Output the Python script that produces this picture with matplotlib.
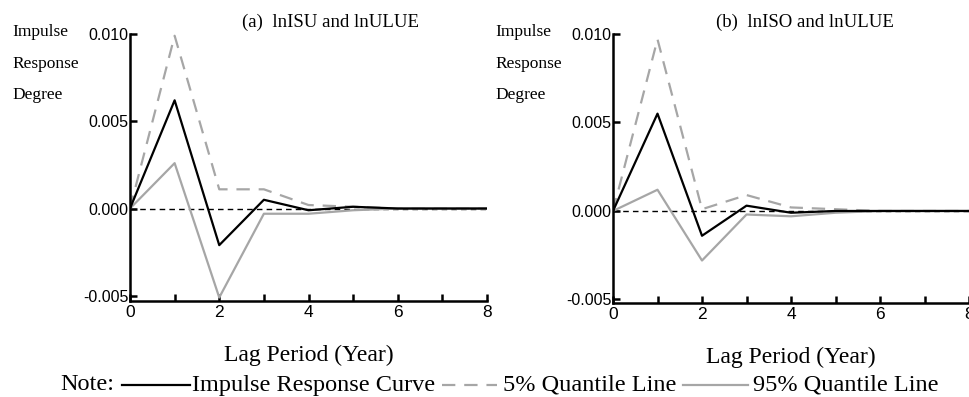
import numpy as np
import matplotlib.pyplot as plt
from matplotlib.lines import Line2D

#Daten
lags = [0, 1, 2, 3, 4, 5, 6, 7, 8]
#(a) lnISU und lnULUE
irf_a = [0.0, 0.0062, -0.0021, 0.0005, -0.0001, 0.0001, 0.0, 0.0, 0.0]
q5_a = [0.0, 0.0099, 0.0011, 0.0011, 0.0002, 0.0001, 0.0, 0.0, 0.0]
q95_a = [0.0, 0.0026, -0.0051, -0.0003, -0.0003, -0.0001, 0.0, 0.0, 0.0]
#(b) lnISO und lnULUE
irf_b = [0.0, 0.0055, -0.0014, 0.0003, -0.0001, 0.0, 0.0, 0.0, 0.0]
q5_b = [0.0, 0.0097, 0.0001, 0.0009, 0.0002, 0.0001, 0.0, 0.0, 0.0]
q95_b = [0.0, 0.0012, -0.0028, -0.0002, -0.0003, -0.0001, 0.0, 0.0, 0.0]

titles = ["(a)  lnISU and lnULUE", "(b)  lnISO and lnULUE"]
yticks = [-0.005, 0.0, 0.005, 0.010]
ytick_labels = ["-0.005", "0.000", "0.005", "0.010"]
legend_names = ["Impulse Response Curve", "5% Quantile Line", "95% Quantile Line"]

serif = ["Liberation Serif", "DejaVu Serif"]
sans = ["Liberation Sans", "DejaVu Sans"]
grey = "#a6a6a6"
dash = (0, (6, 4))

W, H = 969, 397
fig = plt.figure(figsize=(W / 100, H / 100), dpi=100)

def panel(rect, irf, q5, q95, title, ybot, label_x, title_x):
    ax = fig.add_axes(rect)
    ax.axhline(0, color="black", lw=1.0, ls=(0, (4, 3)), zorder=1)
    ax.plot(lags, q5, color=grey, lw=1.6, ls=dash, zorder=2)
    ax.plot(lags, q95, color=grey, lw=1.6, zorder=2)
    ax.plot(lags, irf, color="black", lw=1.6, zorder=3)
    ax.set_xlim(0, 8)
    ax.set_ylim(ybot, 0.010)
    for s in ["top", "right"]:
        ax.spines[s].set_visible(False)
    ax.spines["left"].set_linewidth(1.8)
    ax.spines["bottom"].set_linewidth(1.8)
    ax.set_yticks(yticks)
    ax.set_yticklabels(ytick_labels, family=sans, fontsize=11.5)
    ax.set_xticks([0, 2, 4, 6, 8])
    ax.set_xticklabels(["0", "2", "4", "6", "8"], family=sans, fontsize=12.5)
    ax.set_xticks([1, 3, 5, 7], minor=True)
    ax.tick_params(axis="y", direction="in", length=5, width=1.8, pad=1)
    ax.tick_params(axis="x", which="both", direction="in", length=5, width=1.8, pad=3)
    ax.set_xlabel("Lag Period (Year)", family=serif, fontsize=17, labelpad=18)
    fig.text(title_x / W, 1 - 22 / H, title, family=serif, fontsize=13.5,
             ha="center", va="center")
    fig.text(label_x / W, 1 - 24 / H, "Impulse\nResponse\nDegree", family=serif,
             fontsize=12.5, va="top", ha="left", linespacing=2.3)
    return ax

ax1 = panel([130 / W, 1 - 301 / H, 357 / W, 267 / H], irf_a, q5_a, q95_a,
            titles[0], -0.0053, 12, 330)
ax2 = panel([613 / W, 1 - 303 / H, 356 / W, 269 / H], irf_b, q5_b, q95_b,
            titles[1], -0.0052, 495, 805)

#Legende von Hand
ly = 1 - 385 / H
fig.text(60 / W, ly, "Note:", family=serif, fontsize=17.5, va="center")
segs = [(122, 190, "black", "-"), (442, 497, grey, dash), (683, 748, grey, "-")]
starts = [192, 503, 753]
for (x0, x1, c, ls), sx, name in zip(segs, starts, legend_names):
    fig.add_artist(Line2D([x0 / W, x1 / W], [ly, ly], transform=fig.transFigure,
                          color=c, lw=1.6, ls=ls))
    fig.text(sx / W, ly, name, family=serif, fontsize=17.5, va="center")

fig.savefig("out.png", dpi=100)
